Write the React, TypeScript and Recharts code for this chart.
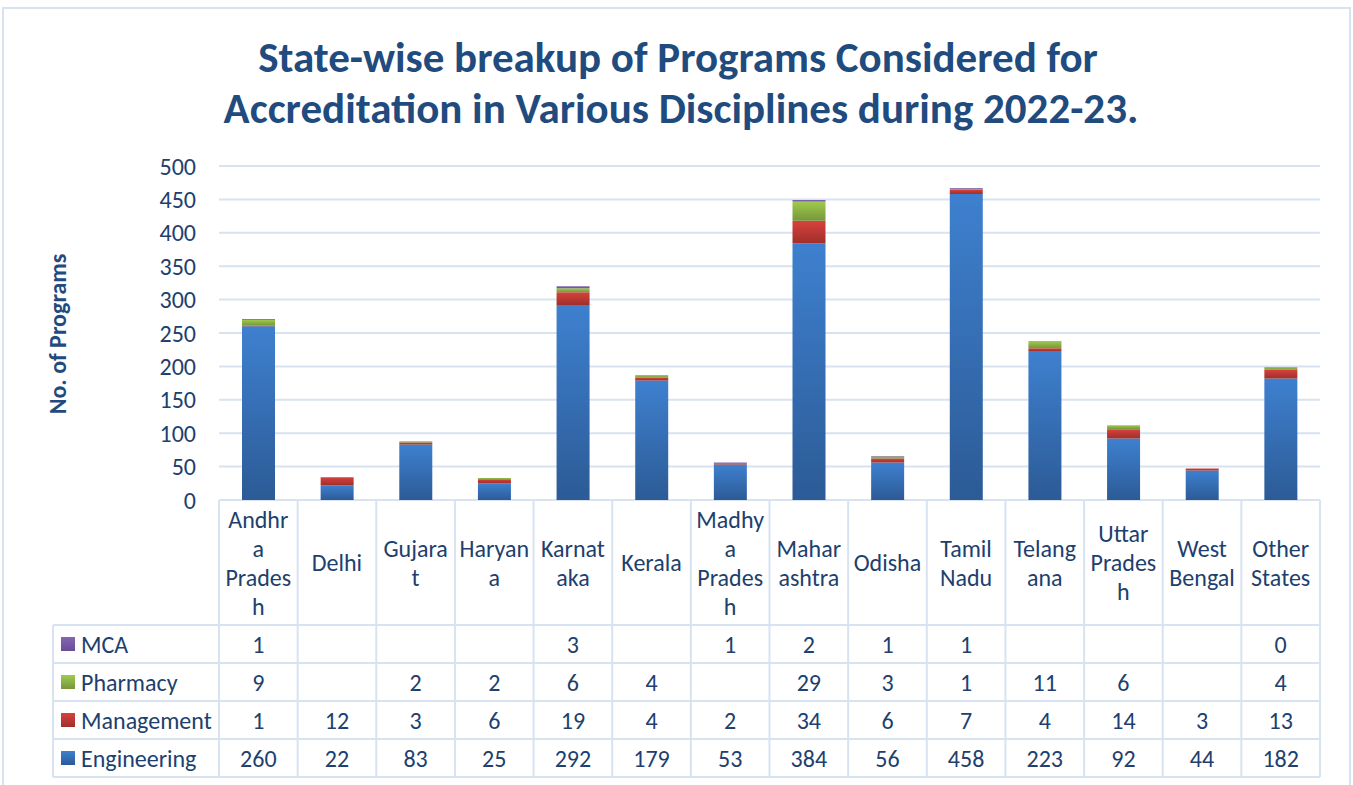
import { BarChart, Bar, XAxis, YAxis, CartesianGrid } from "recharts";

const categories = [
  "Andhra Pradesh", "Delhi", "Gujarat", "Haryana", "Karnataka", "Kerala", "Madhya Pradesh",
  "Maharashtra", "Odisha", "Tamil Nadu", "Telangana", "Uttar Pradesh", "West Bengal", "Other States",
];
// header text as it wraps in the table
const headerLines = [
  ["Andhr", "a", "Prades", "h"], ["Delhi"], ["Gujara", "t"], ["Haryan", "a"], ["Karnat", "aka"],
  ["Kerala"], ["Madhy", "a", "Prades", "h"], ["Mahar", "ashtra"], ["Odisha"], ["Tamil", "Nadu"],
  ["Telang", "ana"], ["Uttar", "Prades", "h"], ["West", "Bengal"], ["Other", "States"],
];
const engineering = [260, 22, 83, 25, 292, 179, 53, 384, 56, 458, 223, 92, 44, 182];
const management = [1, 12, 3, 6, 19, 4, 2, 34, 6, 7, 4, 14, 3, 13];
const pharmacy = [9, null, 2, 2, 6, 4, null, 29, 3, 1, 11, 6, null, 4];
const mca = [1, null, null, null, 3, null, 1, 2, 1, 1, null, null, null, 0];
const yTicks = [0, 50, 100, 150, 200, 250, 300, 350, 400, 450, 500];

const series = [
  { key: "mca", label: "MCA", values: mca, top: "#8566b3", bottom: "#6a4c96" },
  { key: "pharmacy", label: "Pharmacy", values: pharmacy, top: "#a0cb4e", bottom: "#76963a" },
  { key: "management", label: "Management", values: management, top: "#d8413c", bottom: "#9f2f2b" },
  { key: "engineering", label: "Engineering", values: engineering, top: "#3e80cf", bottom: "#2c5b96" },
];

const data = categories.map((name, i) => ({
  name,
  engineering: engineering[i],
  management: management[i],
  pharmacy: pharmacy[i],
  mca: mca[i],
}));

const W = 1353;
const H = 785;
const PLOT_L = 219;
const PLOT_R = 1320;
const PLOT_B = 500;
const TABLE_L = 53;
const HEADER_B = 625;
const ROW_H = 38;
const GRID = "#d7e3f1";
const TXT = "#213f6e";
const FONT = "Carlito, Lato, 'Open Sans', sans-serif";
const colW = (PLOT_R - PLOT_L) / categories.length;

function XTick(props: any) {
  const { x, index } = props;
  const lines = headerLines[index];
  const midY = (PLOT_B + HEADER_B) / 2;
  const lh = 29;
  const y0 = midY - ((lines.length - 1) * lh) / 2;
  return (
    <g>
      <line x1={x - colW / 2} x2={x - colW / 2} y1={PLOT_B} y2={HEADER_B + ROW_H * 4} stroke={GRID} strokeWidth={2} />
      {index === categories.length - 1 && (
        <line x1={x + colW / 2} x2={x + colW / 2} y1={PLOT_B} y2={HEADER_B + ROW_H * 4} stroke={GRID} strokeWidth={2} />
      )}
      {lines.map((t, k) => (
        <text key={k} x={x} y={y0 + k * lh} textAnchor="middle" dominantBaseline="central" fontSize={24} fill={TXT} fontFamily={FONT}>
          {t}
        </text>
      ))}
      {series.map((s, r) => {
        const v = s.values[index];
        if (v === null) return null;
        return (
          <text key={s.key} x={x} y={HEADER_B + ROW_H * r + ROW_H / 2} textAnchor="middle" dominantBaseline="central" fontSize={24} fill={TXT} fontFamily={FONT}>
            {v}
          </text>
        );
      })}
    </g>
  );
}

function YTick(props: any) {
  const { x, y, payload } = props;
  return (
    <text x={x - 23} y={y} textAnchor="end" dominantBaseline="central" fontSize={24} fill={TXT} fontFamily={FONT}>
      {payload.value}
    </text>
  );
}

export default function App() {
  return (
    <div style={{ position: "absolute", left: 0, top: 0, width: W, height: H, background: "#fff", overflow: "hidden" }}>
      <BarChart width={W} height={H} data={data} margin={{ top: 166, right: W - PLOT_R, left: 0, bottom: 0 }} barSize={33}>
        <defs>
          {series.map((s) => (
            <linearGradient key={s.key} id={`g-${s.key}`} x1="0" y1="0" x2="0" y2="1">
              <stop offset="0%" stopColor={s.top} />
              <stop offset="100%" stopColor={s.bottom} />
            </linearGradient>
          ))}
        </defs>
        <CartesianGrid vertical={false} stroke={GRID} strokeWidth={2} />
        <XAxis dataKey="name" height={H - PLOT_B} axisLine={false} tickLine={false} tickSize={0} tickMargin={0} interval={0} tick={<XTick />} />
        <YAxis width={PLOT_L} domain={[0, 500]} ticks={yTicks} axisLine={false} tickLine={false} tickSize={0} tickMargin={0} tick={<YTick />} />
        <Bar dataKey="engineering" stackId="a" fill="url(#g-engineering)" isAnimationActive={false} />
        <Bar dataKey="management" stackId="a" fill="url(#g-management)" isAnimationActive={false} />
        <Bar dataKey="pharmacy" stackId="a" fill="url(#g-pharmacy)" isAnimationActive={false} />
        <Bar dataKey="mca" stackId="a" fill="url(#g-mca)" isAnimationActive={false} />
      </BarChart>
      <svg width={W} height={H} style={{ position: "absolute", left: 0, top: 0, pointerEvents: "none" }}>
        <defs>
          {series.map((s) => (
            <linearGradient key={s.key} id={`lg-${s.key}`} x1="0" y1="0" x2="0" y2="1">
              <stop offset="0%" stopColor={s.top} />
              <stop offset="100%" stopColor={s.bottom} />
            </linearGradient>
          ))}
        </defs>
        <rect x={3} y={8} width={W - 6} height={H} fill="none" stroke={GRID} strokeWidth={2} />
        <text x={678} y={57} textAnchor="middle" dominantBaseline="central" fontSize={43} fontWeight="bold" fill="#1f4b7e" fontFamily={FONT}>
          State-wise breakup of Programs Considered for
        </text>
        <text x={681} y={108} textAnchor="middle" dominantBaseline="central" fontSize={43} fontWeight="bold" fill="#1f4b7e" fontFamily={FONT}>
          Accreditation in Various Disciplines during 2022-23.
        </text>
        <text transform="translate(57,334) rotate(-90)" textAnchor="middle" dominantBaseline="central" fontSize={24} fontWeight="bold" fill="#1f4b7e" fontFamily={FONT}>
          No. of Programs
        </text>
        {[0, 1, 2, 3, 4].map((r) => (
          <line key={r} x1={TABLE_L} x2={PLOT_R} y1={HEADER_B + r * ROW_H} y2={HEADER_B + r * ROW_H} stroke={GRID} strokeWidth={2} />
        ))}
        <line x1={TABLE_L} x2={TABLE_L} y1={HEADER_B} y2={HEADER_B + 4 * ROW_H} stroke={GRID} strokeWidth={2} />
        {series.map((s, r) => {
          const cy = HEADER_B + r * ROW_H + ROW_H / 2;
          return (
            <g key={s.key}>
              <rect x={61} y={cy - 7} width={14} height={14} fill={`url(#lg-${s.key})`} />
              <text x={81} y={cy} dominantBaseline="central" fontSize={24} fill={TXT} fontFamily={FONT}>
                {s.label}
              </text>
            </g>
          );
        })}
      </svg>
    </div>
  );
}
